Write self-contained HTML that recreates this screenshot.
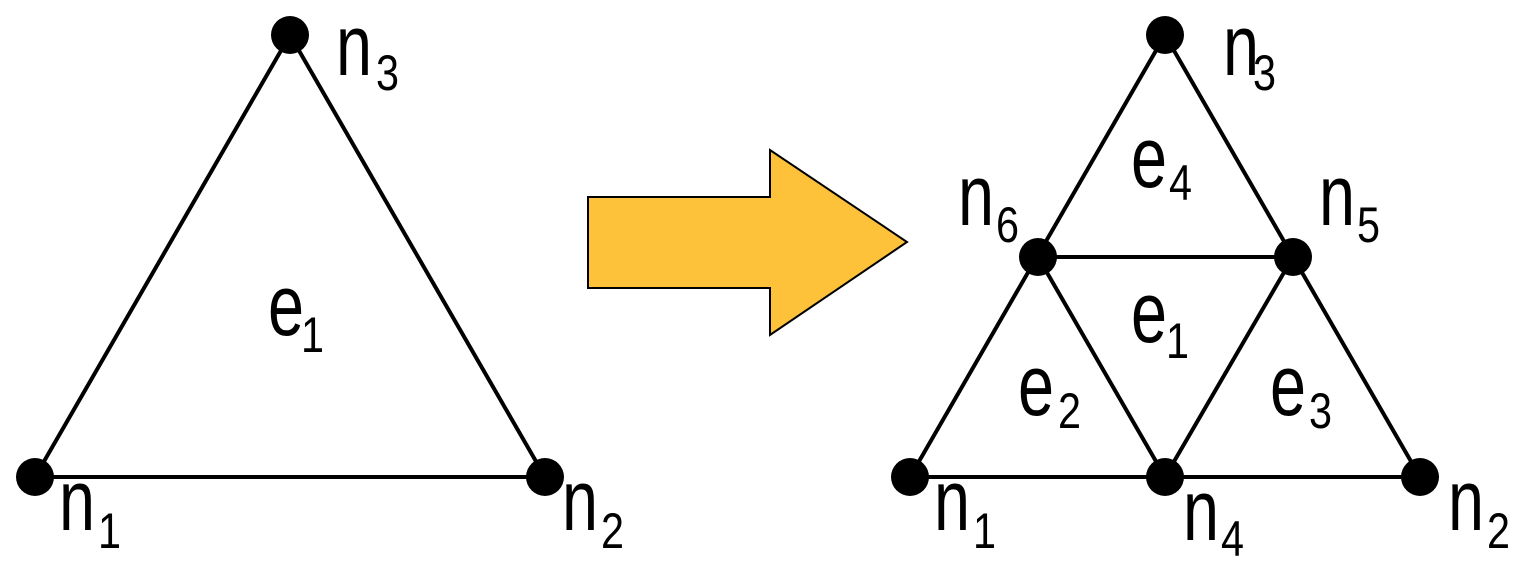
<!DOCTYPE html>
<html><head><meta charset="utf-8"><style>html,body{margin:0;padding:0;background:#fff;}svg{display:block}</style></head>
<body>
<svg width="1526" height="571" viewBox="0 0 1526 571" xmlns="http://www.w3.org/2000/svg">
<g stroke="#000" stroke-width="4" fill="none">
<polygon points="290,35 35,477 545,477"/>
<polygon points="1165,35 910,477 1420,477"/>
<polygon points="1038,257 1293,257 1165,477"/>
</g>
<polygon points="588,197 770,197 770,150 907,242 770,335 770,288 588,288" fill="#FDC13A" stroke="#000" stroke-width="2"/>
<g fill="#000">
<circle cx="290" cy="35" r="19"/><circle cx="35" cy="477" r="19"/><circle cx="545" cy="477" r="19"/>
<circle cx="1165" cy="35" r="19"/><circle cx="1038" cy="257" r="19"/><circle cx="1293" cy="257" r="19"/>
<circle cx="910" cy="477" r="19"/><circle cx="1165" cy="477" r="19"/><circle cx="1420" cy="477" r="19"/>
</g>
<g font-family="'Liberation Sans',sans-serif" fill="#000">
<g font-size="86">
<text x="336" y="75" textLength="36" lengthAdjust="spacingAndGlyphs">n</text>
<text x="59" y="530" textLength="36" lengthAdjust="spacingAndGlyphs">n</text>
<text x="562" y="530" textLength="36" lengthAdjust="spacingAndGlyphs">n</text>
<text x="268" y="335" textLength="36" lengthAdjust="spacingAndGlyphs">e</text>
<text x="1223" y="75" textLength="36" lengthAdjust="spacingAndGlyphs">n</text>
<text x="958" y="225" textLength="36" lengthAdjust="spacingAndGlyphs">n</text>
<text x="1319" y="225" textLength="36" lengthAdjust="spacingAndGlyphs">n</text>
<text x="1131" y="187" textLength="36" lengthAdjust="spacingAndGlyphs">e</text>
<text x="1131" y="342" textLength="36" lengthAdjust="spacingAndGlyphs">e</text>
<text x="1018" y="415" textLength="36" lengthAdjust="spacingAndGlyphs">e</text>
<text x="1270" y="415" textLength="36" lengthAdjust="spacingAndGlyphs">e</text>
<text x="934" y="530" textLength="36" lengthAdjust="spacingAndGlyphs">n</text>
<text x="1183" y="540" textLength="36" lengthAdjust="spacingAndGlyphs">n</text>
<text x="1448" y="530" textLength="36" lengthAdjust="spacingAndGlyphs">n</text>
</g>
<g font-size="50">
<text x="376" y="90" textLength="23" lengthAdjust="spacingAndGlyphs">3</text>
<text x="98" y="548" textLength="23" lengthAdjust="spacingAndGlyphs">1</text>
<text x="601" y="548" textLength="23" lengthAdjust="spacingAndGlyphs">2</text>
<text x="301" y="352" textLength="23" lengthAdjust="spacingAndGlyphs">1</text>
<text x="1253" y="90" textLength="23" lengthAdjust="spacingAndGlyphs">3</text>
<text x="996" y="242" textLength="23" lengthAdjust="spacingAndGlyphs">6</text>
<text x="1357" y="242" textLength="23" lengthAdjust="spacingAndGlyphs">5</text>
<text x="1169" y="200" textLength="23" lengthAdjust="spacingAndGlyphs">4</text>
<text x="1166" y="358" textLength="23" lengthAdjust="spacingAndGlyphs">1</text>
<text x="1058" y="428" textLength="23" lengthAdjust="spacingAndGlyphs">2</text>
<text x="1309" y="428" textLength="23" lengthAdjust="spacingAndGlyphs">3</text>
<text x="973" y="548" textLength="23" lengthAdjust="spacingAndGlyphs">1</text>
<text x="1221" y="556" textLength="23" lengthAdjust="spacingAndGlyphs">4</text>
<text x="1487" y="548" textLength="23" lengthAdjust="spacingAndGlyphs">2</text>
</g>
</g>
</svg>
</body></html>
